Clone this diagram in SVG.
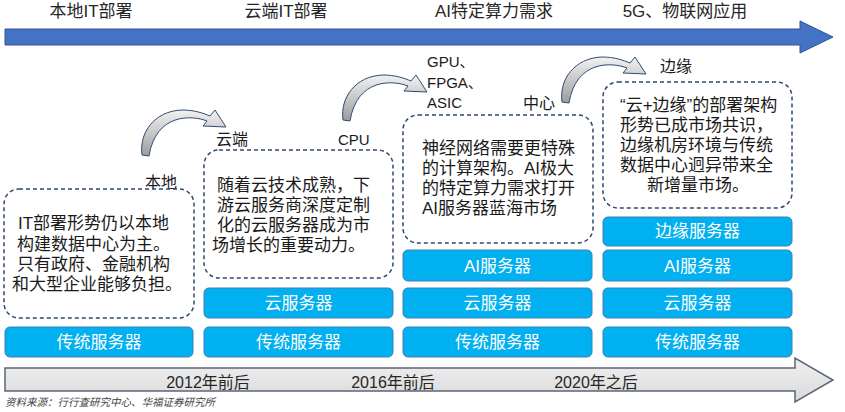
<svg xmlns="http://www.w3.org/2000/svg" width="845" height="412" viewBox="0 0 845 412">
  <defs>
    <linearGradient id="gArc" x1="0" y1="0" x2="0" y2="1">
      <stop offset="0" stop-color="#f2f2f2"/>
      <stop offset="1" stop-color="#9c9c9c"/>
    </linearGradient>
    <linearGradient id="gGray" x1="0" y1="0" x2="0" y2="1">
      <stop offset="0" stop-color="#f0f0f0"/>
      <stop offset="1" stop-color="#dadada"/>
    </linearGradient>
    <path id="arc" d="M0,0 C-3,-22 12,-44 40,-45 C52,-45 61,-42 68,-39 L73,-45 L84,-28 L61,-29 L65,-34 C50,-40 14,-42 7,1 Z"/>
  </defs>
  <style>
    text { font-family: "Liberation Sans", "Noto Sans CJK SC", sans-serif; }
    .top { font-size: 17px; fill: #262626; text-anchor: middle; }
    .yr { font-size: 16px; fill: #262626; text-anchor: middle; }
    .desc { font-size: 17px; fill: #1a1a1a; }
    .lbl { font-size: 16px; fill: #1a1a1a; }
    .lat { font-size: 15px; fill: #1a1a1a; }
    .dash { fill: #ffffff; stroke: #2f4a6e; stroke-width: 1.5; stroke-dasharray: 4 3; }
    .srv { fill: #00b0f0; stroke: #3f7fb5; stroke-width: 1; }
    .srvt { font-size: 17px; fill: #ffffff; text-anchor: middle; }
    .arcs use { fill: url(#gArc); stroke: #2f4a75; stroke-width: 1; }
    .src { font-size: 10.5px; fill: #3f3f3f; font-style: italic; }
  </style>

  <g id="timeline-top">
    <path d="M5,29 H800 V21 L833,37 L800,53 V45 H5 Z" fill="#4472c4" stroke="#2f5597" stroke-width="1"/>
    <text class="top" x="91" y="17">本地IT部署</text>
    <text class="top" x="286" y="17">云端IT部署</text>
    <text class="top" x="494" y="17">AI特定算力需求</text>
    <text class="top" x="685" y="17">5G、物联网应用</text>
  </g>

  <g id="timeline-bottom">
    <path d="M5,368 H795 V358 L833,380 L795,402 V391 H5 Z" fill="url(#gGray)" stroke="#5a6577" stroke-width="1.5"/>
    <text class="yr" x="208" y="388">2012年前后</text>
    <text class="yr" x="393" y="388">2016年前后</text>
    <text class="yr" x="596" y="388">2020年之后</text>
  </g>

  <g id="stage-local">
    <text class="lbl" x="145" y="188">本地</text>
    <rect class="dash" x="4" y="189" width="190" height="129" rx="15"/>
    <text class="desc" x="18" y="229">IT部署形势仍以本地</text>
    <text class="desc" x="17" y="250">构建数据中心为主。</text>
    <text class="desc" x="17" y="270">只有政府、金融机构</text>
    <text class="desc" x="12" y="290">和大型企业能够负担。</text>
    <rect class="srv" x="5" y="327" width="188" height="30" rx="5"/>
    <text class="srvt" x="99" y="348">传统服务器</text>
  </g>

  <g id="stage-cloud">
    <text class="lbl" x="216" y="145">云端</text>
    <text class="lat" x="338" y="145">CPU</text>
    <rect class="dash" x="204" y="150" width="189" height="128" rx="15"/>
    <text class="desc" x="217" y="191">随着云技术成熟，下</text>
    <text class="desc" x="217" y="211">游云服务商深度定制</text>
    <text class="desc" x="217" y="231">化的云服务器成为市</text>
    <text class="desc" x="212" y="251">场增长的重要动力。</text>
    <rect class="srv" x="204" y="288" width="189" height="30" rx="5"/>
    <text class="srvt" x="298.5" y="309">云服务器</text>
    <rect class="srv" x="204" y="327" width="189" height="30" rx="5"/>
    <text class="srvt" x="298.5" y="348">传统服务器</text>
  </g>

  <g id="stage-ai">
    <text class="lat" x="427" y="67">GPU、</text>
    <text class="lat" x="427" y="88">FPGA、</text>
    <text class="lat" x="427" y="108">ASIC</text>
    <text class="lbl" x="523" y="109">中心</text>
    <rect class="dash" x="403" y="115" width="190" height="128" rx="15"/>
    <text class="desc" x="422" y="154">神经网络需要更特殊</text>
    <text class="desc" x="422" y="174">的计算架构。AI极大</text>
    <text class="desc" x="422" y="194">的特定算力需求打开</text>
    <text class="desc" x="422" y="214">AI服务器蓝海市场</text>
    <rect class="srv" x="403" y="250" width="189" height="31" rx="5"/>
    <text class="srvt" x="497.5" y="272">AI服务器</text>
    <rect class="srv" x="403" y="288" width="189" height="30" rx="5"/>
    <text class="srvt" x="497.5" y="309">云服务器</text>
    <rect class="srv" x="403" y="327" width="189" height="30" rx="5"/>
    <text class="srvt" x="497.5" y="348">传统服务器</text>
  </g>

  <g id="stage-edge">
    <text class="lbl" x="660" y="72">边缘</text>
    <rect class="dash" x="603" y="82" width="189" height="126" rx="15"/>
    <text class="desc" x="620" y="111">“云+边缘”的部署架构</text>
    <text class="desc" x="620" y="131">形势已成市场共识，</text>
    <text class="desc" x="620" y="151">边缘机房环境与传统</text>
    <text class="desc" x="620" y="171">数据中心迥异带来全</text>
    <text class="desc" x="647" y="191">新增量市场。</text>
    <rect class="srv" x="603" y="217" width="189" height="29" rx="5"/>
    <text class="srvt" x="697.5" y="237">边缘服务器</text>
    <rect class="srv" x="603" y="250" width="189" height="31" rx="5"/>
    <text class="srvt" x="697.5" y="272">AI服务器</text>
    <rect class="srv" x="603" y="288" width="189" height="30" rx="5"/>
    <text class="srvt" x="697.5" y="309">云服务器</text>
    <rect class="srv" x="603" y="327" width="189" height="30" rx="5"/>
    <text class="srvt" x="697.5" y="348">传统服务器</text>
  </g>

  <g id="connectors" class="arcs">
    <use href="#arc" transform="translate(142,155)"/>
    <use href="#arc" transform="translate(343,120)"/>
    <use href="#arc" transform="translate(562,102)"/>
  </g>

  <text class="src" x="5" y="406">资料来源：行行查研究中心、华福证券研究所</text>
</svg>
